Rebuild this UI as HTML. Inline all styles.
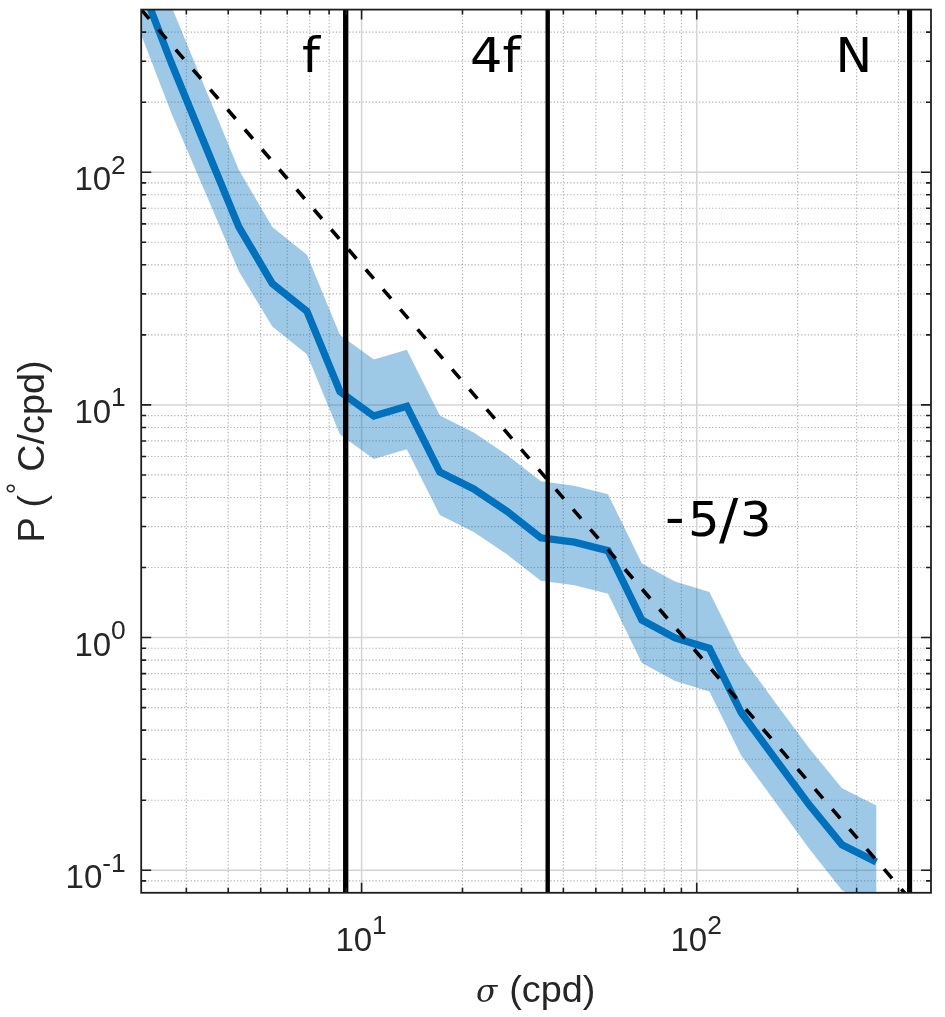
<!DOCTYPE html>
<html lang="en"><head><meta charset="utf-8"><title>Spectrum</title>
<style>html,body{margin:0;padding:0;background:#fff}svg{display:block}</style></head>
<body>
<svg width="945" height="1017" viewBox="0 0 945 1017">
<rect width="945" height="1017" fill="#fff"/>
<defs><clipPath id="c"><rect x="141.20" y="9.60" width="789.80" height="883.19"/></clipPath></defs>
<g fill="none">
<line x1="186.34" y1="9.60" x2="186.34" y2="892.79" stroke="#b4b4b4" stroke-width="1.15" stroke-dasharray="1.3 2.0"/>
<line x1="228.22" y1="9.60" x2="228.22" y2="892.79" stroke="#b4b4b4" stroke-width="1.15" stroke-dasharray="1.3 2.0"/>
<line x1="260.70" y1="9.60" x2="260.70" y2="892.79" stroke="#b4b4b4" stroke-width="1.15" stroke-dasharray="1.3 2.0"/>
<line x1="287.23" y1="9.60" x2="287.23" y2="892.79" stroke="#b4b4b4" stroke-width="1.15" stroke-dasharray="1.3 2.0"/>
<line x1="309.67" y1="9.60" x2="309.67" y2="892.79" stroke="#b4b4b4" stroke-width="1.15" stroke-dasharray="1.3 2.0"/>
<line x1="329.11" y1="9.60" x2="329.11" y2="892.79" stroke="#b4b4b4" stroke-width="1.15" stroke-dasharray="1.3 2.0"/>
<line x1="346.25" y1="9.60" x2="346.25" y2="892.79" stroke="#b4b4b4" stroke-width="1.15" stroke-dasharray="1.3 2.0"/>
<line x1="462.48" y1="9.60" x2="462.48" y2="892.79" stroke="#b4b4b4" stroke-width="1.15" stroke-dasharray="1.3 2.0"/>
<line x1="521.49" y1="9.60" x2="521.49" y2="892.79" stroke="#b4b4b4" stroke-width="1.15" stroke-dasharray="1.3 2.0"/>
<line x1="563.37" y1="9.60" x2="563.37" y2="892.79" stroke="#b4b4b4" stroke-width="1.15" stroke-dasharray="1.3 2.0"/>
<line x1="595.85" y1="9.60" x2="595.85" y2="892.79" stroke="#b4b4b4" stroke-width="1.15" stroke-dasharray="1.3 2.0"/>
<line x1="622.38" y1="9.60" x2="622.38" y2="892.79" stroke="#b4b4b4" stroke-width="1.15" stroke-dasharray="1.3 2.0"/>
<line x1="644.82" y1="9.60" x2="644.82" y2="892.79" stroke="#b4b4b4" stroke-width="1.15" stroke-dasharray="1.3 2.0"/>
<line x1="664.26" y1="9.60" x2="664.26" y2="892.79" stroke="#b4b4b4" stroke-width="1.15" stroke-dasharray="1.3 2.0"/>
<line x1="681.40" y1="9.60" x2="681.40" y2="892.79" stroke="#b4b4b4" stroke-width="1.15" stroke-dasharray="1.3 2.0"/>
<line x1="797.63" y1="9.60" x2="797.63" y2="892.79" stroke="#b4b4b4" stroke-width="1.15" stroke-dasharray="1.3 2.0"/>
<line x1="856.64" y1="9.60" x2="856.64" y2="892.79" stroke="#b4b4b4" stroke-width="1.15" stroke-dasharray="1.3 2.0"/>
<line x1="898.52" y1="9.60" x2="898.52" y2="892.79" stroke="#b4b4b4" stroke-width="1.15" stroke-dasharray="1.3 2.0"/>
<line x1="141.20" y1="880.89" x2="931.00" y2="880.89" stroke="#b4b4b4" stroke-width="1.15" stroke-dasharray="1.3 2.0"/>
<line x1="141.20" y1="800.20" x2="931.00" y2="800.20" stroke="#b4b4b4" stroke-width="1.15" stroke-dasharray="1.3 2.0"/>
<line x1="141.20" y1="759.23" x2="931.00" y2="759.23" stroke="#b4b4b4" stroke-width="1.15" stroke-dasharray="1.3 2.0"/>
<line x1="141.20" y1="730.16" x2="931.00" y2="730.16" stroke="#b4b4b4" stroke-width="1.15" stroke-dasharray="1.3 2.0"/>
<line x1="141.20" y1="707.61" x2="931.00" y2="707.61" stroke="#b4b4b4" stroke-width="1.15" stroke-dasharray="1.3 2.0"/>
<line x1="141.20" y1="689.19" x2="931.00" y2="689.19" stroke="#b4b4b4" stroke-width="1.15" stroke-dasharray="1.3 2.0"/>
<line x1="141.20" y1="673.61" x2="931.00" y2="673.61" stroke="#b4b4b4" stroke-width="1.15" stroke-dasharray="1.3 2.0"/>
<line x1="141.20" y1="660.12" x2="931.00" y2="660.12" stroke="#b4b4b4" stroke-width="1.15" stroke-dasharray="1.3 2.0"/>
<line x1="141.20" y1="648.22" x2="931.00" y2="648.22" stroke="#b4b4b4" stroke-width="1.15" stroke-dasharray="1.3 2.0"/>
<line x1="141.20" y1="567.53" x2="931.00" y2="567.53" stroke="#b4b4b4" stroke-width="1.15" stroke-dasharray="1.3 2.0"/>
<line x1="141.20" y1="526.56" x2="931.00" y2="526.56" stroke="#b4b4b4" stroke-width="1.15" stroke-dasharray="1.3 2.0"/>
<line x1="141.20" y1="497.49" x2="931.00" y2="497.49" stroke="#b4b4b4" stroke-width="1.15" stroke-dasharray="1.3 2.0"/>
<line x1="141.20" y1="474.94" x2="931.00" y2="474.94" stroke="#b4b4b4" stroke-width="1.15" stroke-dasharray="1.3 2.0"/>
<line x1="141.20" y1="456.52" x2="931.00" y2="456.52" stroke="#b4b4b4" stroke-width="1.15" stroke-dasharray="1.3 2.0"/>
<line x1="141.20" y1="440.94" x2="931.00" y2="440.94" stroke="#b4b4b4" stroke-width="1.15" stroke-dasharray="1.3 2.0"/>
<line x1="141.20" y1="427.45" x2="931.00" y2="427.45" stroke="#b4b4b4" stroke-width="1.15" stroke-dasharray="1.3 2.0"/>
<line x1="141.20" y1="415.55" x2="931.00" y2="415.55" stroke="#b4b4b4" stroke-width="1.15" stroke-dasharray="1.3 2.0"/>
<line x1="141.20" y1="334.86" x2="931.00" y2="334.86" stroke="#b4b4b4" stroke-width="1.15" stroke-dasharray="1.3 2.0"/>
<line x1="141.20" y1="293.89" x2="931.00" y2="293.89" stroke="#b4b4b4" stroke-width="1.15" stroke-dasharray="1.3 2.0"/>
<line x1="141.20" y1="264.82" x2="931.00" y2="264.82" stroke="#b4b4b4" stroke-width="1.15" stroke-dasharray="1.3 2.0"/>
<line x1="141.20" y1="242.27" x2="931.00" y2="242.27" stroke="#b4b4b4" stroke-width="1.15" stroke-dasharray="1.3 2.0"/>
<line x1="141.20" y1="223.85" x2="931.00" y2="223.85" stroke="#b4b4b4" stroke-width="1.15" stroke-dasharray="1.3 2.0"/>
<line x1="141.20" y1="208.27" x2="931.00" y2="208.27" stroke="#b4b4b4" stroke-width="1.15" stroke-dasharray="1.3 2.0"/>
<line x1="141.20" y1="194.78" x2="931.00" y2="194.78" stroke="#b4b4b4" stroke-width="1.15" stroke-dasharray="1.3 2.0"/>
<line x1="141.20" y1="182.88" x2="931.00" y2="182.88" stroke="#b4b4b4" stroke-width="1.15" stroke-dasharray="1.3 2.0"/>
<line x1="141.20" y1="102.19" x2="931.00" y2="102.19" stroke="#b4b4b4" stroke-width="1.15" stroke-dasharray="1.3 2.0"/>
<line x1="141.20" y1="61.22" x2="931.00" y2="61.22" stroke="#b4b4b4" stroke-width="1.15" stroke-dasharray="1.3 2.0"/>
<line x1="141.20" y1="32.15" x2="931.00" y2="32.15" stroke="#b4b4b4" stroke-width="1.15" stroke-dasharray="1.3 2.0"/>
<line x1="361.59" y1="9.60" x2="361.59" y2="892.79" stroke="#d4d4d4" stroke-width="1.5"/>
<line x1="696.74" y1="9.60" x2="696.74" y2="892.79" stroke="#d4d4d4" stroke-width="1.5"/>
<line x1="141.20" y1="870.24" x2="931.00" y2="870.24" stroke="#d4d4d4" stroke-width="1.5"/>
<line x1="141.20" y1="637.57" x2="931.00" y2="637.57" stroke="#d4d4d4" stroke-width="1.5"/>
<line x1="141.20" y1="404.90" x2="931.00" y2="404.90" stroke="#d4d4d4" stroke-width="1.5"/>
<line x1="141.20" y1="172.23" x2="931.00" y2="172.23" stroke="#d4d4d4" stroke-width="1.5"/>
</g>
<g clip-path="url(#c)">
<polygon points="138.2,-80.0 171.7,7.0 205.3,88.5 238.8,169.8 272.3,227.0 306.9,254.7 340.0,335.1 373.8,359.6 406.8,349.8 439.8,415.6 473.7,432.5 507.2,455.0 540.8,481.3 574.3,485.7 608.0,494.2 641.9,563.5 675.0,581.4 709.4,591.9 741.2,656.0 775.6,702.9 809.2,748.3 842.0,788.3 876.3,805.5 876.3,907.5 842.0,890.3 809.2,848.8 775.6,802.4 741.2,755.5 709.4,691.4 675.0,680.9 641.9,663.0 608.0,593.7 574.3,585.2 540.8,580.8 507.2,554.5 473.7,532.0 439.8,515.1 406.8,449.3 373.8,459.1 340.0,434.6 306.9,354.2 272.3,326.5 238.8,271.3 205.3,192.5 171.7,114.0 138.2,27.0" fill="#0072bd" fill-opacity="0.38"/>
<polyline points="138.2,-23.0 171.7,64.0 205.3,145.5 238.8,226.8 272.3,283.5 306.9,311.2 340.0,391.6 373.8,416.1 406.8,406.3 439.8,472.1 473.7,489.0 507.2,511.5 540.8,537.8 574.3,542.2 608.0,550.7 641.9,620.0 675.0,637.9 709.4,648.4 741.2,712.5 775.6,759.4 809.2,804.8 842.0,844.8 876.3,862.0" fill="none" stroke="#0072bd" stroke-width="7.3" stroke-linejoin="miter"/>
<line x1="141.20" y1="9.60" x2="921.80" y2="912.79" stroke="#000" stroke-width="3.6" stroke-dasharray="12.2 14.22"/>
<line x1="345.7" y1="9.60" x2="345.7" y2="892.79" stroke="#000" stroke-width="5.3"/>
<line x1="547.7" y1="9.60" x2="547.7" y2="892.79" stroke="#000" stroke-width="4.4"/>
<line x1="909.6" y1="9.60" x2="909.6" y2="892.79" stroke="#000" stroke-width="5.1"/>
</g>
<g stroke="#1e1e1e" stroke-width="1.6" fill="none">
<path d="M361.59 892.79v-10M361.59 9.60v10"/>
<path d="M696.74 892.79v-10M696.74 9.60v10"/>
<path d="M186.34 892.79v-5M186.34 9.60v5"/>
<path d="M228.22 892.79v-5M228.22 9.60v5"/>
<path d="M260.70 892.79v-5M260.70 9.60v5"/>
<path d="M287.23 892.79v-5M287.23 9.60v5"/>
<path d="M309.67 892.79v-5M309.67 9.60v5"/>
<path d="M329.11 892.79v-5M329.11 9.60v5"/>
<path d="M346.25 892.79v-5M346.25 9.60v5"/>
<path d="M462.48 892.79v-5M462.48 9.60v5"/>
<path d="M521.49 892.79v-5M521.49 9.60v5"/>
<path d="M563.37 892.79v-5M563.37 9.60v5"/>
<path d="M595.85 892.79v-5M595.85 9.60v5"/>
<path d="M622.38 892.79v-5M622.38 9.60v5"/>
<path d="M644.82 892.79v-5M644.82 9.60v5"/>
<path d="M664.26 892.79v-5M664.26 9.60v5"/>
<path d="M681.40 892.79v-5M681.40 9.60v5"/>
<path d="M797.63 892.79v-5M797.63 9.60v5"/>
<path d="M856.64 892.79v-5M856.64 9.60v5"/>
<path d="M898.52 892.79v-5M898.52 9.60v5"/>
<path d="M141.20 870.24h10M931.00 870.24h-10"/>
<path d="M141.20 637.57h10M931.00 637.57h-10"/>
<path d="M141.20 404.90h10M931.00 404.90h-10"/>
<path d="M141.20 172.23h10M931.00 172.23h-10"/>
<path d="M141.20 880.89h5M931.00 880.89h-5"/>
<path d="M141.20 800.20h5M931.00 800.20h-5"/>
<path d="M141.20 759.23h5M931.00 759.23h-5"/>
<path d="M141.20 730.16h5M931.00 730.16h-5"/>
<path d="M141.20 707.61h5M931.00 707.61h-5"/>
<path d="M141.20 689.19h5M931.00 689.19h-5"/>
<path d="M141.20 673.61h5M931.00 673.61h-5"/>
<path d="M141.20 660.12h5M931.00 660.12h-5"/>
<path d="M141.20 648.22h5M931.00 648.22h-5"/>
<path d="M141.20 567.53h5M931.00 567.53h-5"/>
<path d="M141.20 526.56h5M931.00 526.56h-5"/>
<path d="M141.20 497.49h5M931.00 497.49h-5"/>
<path d="M141.20 474.94h5M931.00 474.94h-5"/>
<path d="M141.20 456.52h5M931.00 456.52h-5"/>
<path d="M141.20 440.94h5M931.00 440.94h-5"/>
<path d="M141.20 427.45h5M931.00 427.45h-5"/>
<path d="M141.20 415.55h5M931.00 415.55h-5"/>
<path d="M141.20 334.86h5M931.00 334.86h-5"/>
<path d="M141.20 293.89h5M931.00 293.89h-5"/>
<path d="M141.20 264.82h5M931.00 264.82h-5"/>
<path d="M141.20 242.27h5M931.00 242.27h-5"/>
<path d="M141.20 223.85h5M931.00 223.85h-5"/>
<path d="M141.20 208.27h5M931.00 208.27h-5"/>
<path d="M141.20 194.78h5M931.00 194.78h-5"/>
<path d="M141.20 182.88h5M931.00 182.88h-5"/>
<path d="M141.20 102.19h5M931.00 102.19h-5"/>
<path d="M141.20 61.22h5M931.00 61.22h-5"/>
<path d="M141.20 32.15h5M931.00 32.15h-5"/>
<rect x="141.20" y="9.60" width="789.80" height="883.19" stroke-width="1.8"/>
</g>
<g font-family="Liberation Sans, sans-serif" fill="#262626">
<text x="125.8" y="190.4" text-anchor="end" font-size="33"><tspan>10</tspan><tspan font-size="26.4" dy="-16.8">2</tspan></text>
<text x="125.8" y="423.1" text-anchor="end" font-size="33"><tspan>10</tspan><tspan font-size="26.4" dy="-16.8">1</tspan></text>
<text x="125.8" y="655.8" text-anchor="end" font-size="33"><tspan>10</tspan><tspan font-size="26.4" dy="-16.8">0</tspan></text>
<text x="125.8" y="888.4" text-anchor="end" font-size="33"><tspan>10</tspan><tspan font-size="26.4" dy="-16.8">-1</tspan></text>
<text x="361.1" y="950.9" text-anchor="middle" font-size="33"><tspan>10</tspan><tspan font-size="26.4" dy="-16.8">1</tspan></text>
<text x="696.2" y="950.9" text-anchor="middle" font-size="33"><tspan>10</tspan><tspan font-size="26.4" dy="-16.8">2</tspan></text>
<g transform="translate(44.2,539.8) rotate(-90)" font-size="37.8">
<text><tspan x="-2.7" y="0">P (</tspan><tspan x="45.6" y="-17.6" font-size="29">°</tspan><tspan x="68" y="0">C/cpd)</tspan></text>
</g>
<text y="1001.6" font-size="37.8"><tspan x="476" font-family="DejaVu Serif, Liberation Serif, serif" font-style="italic" font-size="31.2">σ</tspan><tspan x="498.7"> (cpd)</tspan></text>
</g>
<g font-family="DejaVu Sans, sans-serif" font-size="47.7" fill="#000">
<text transform="translate(302,72.4) scale(1.07,1)">f</text>
<text transform="translate(470,72.4) scale(1.07,1)">4f</text>
<text transform="translate(835.5,72.4) scale(1.03,1)">N</text>
<text transform="translate(665,536) scale(1.04,1)"><tspan font-size="52" dy="-1.2">-</tspan><tspan dx="3.4" dy="1.2">5</tspan><tspan dx="-0.6" dy="1.5" font-size="55">/</tspan><tspan dx="1.6" dy="-1.5">3</tspan></text>
</g>
</svg>
</body></html>
